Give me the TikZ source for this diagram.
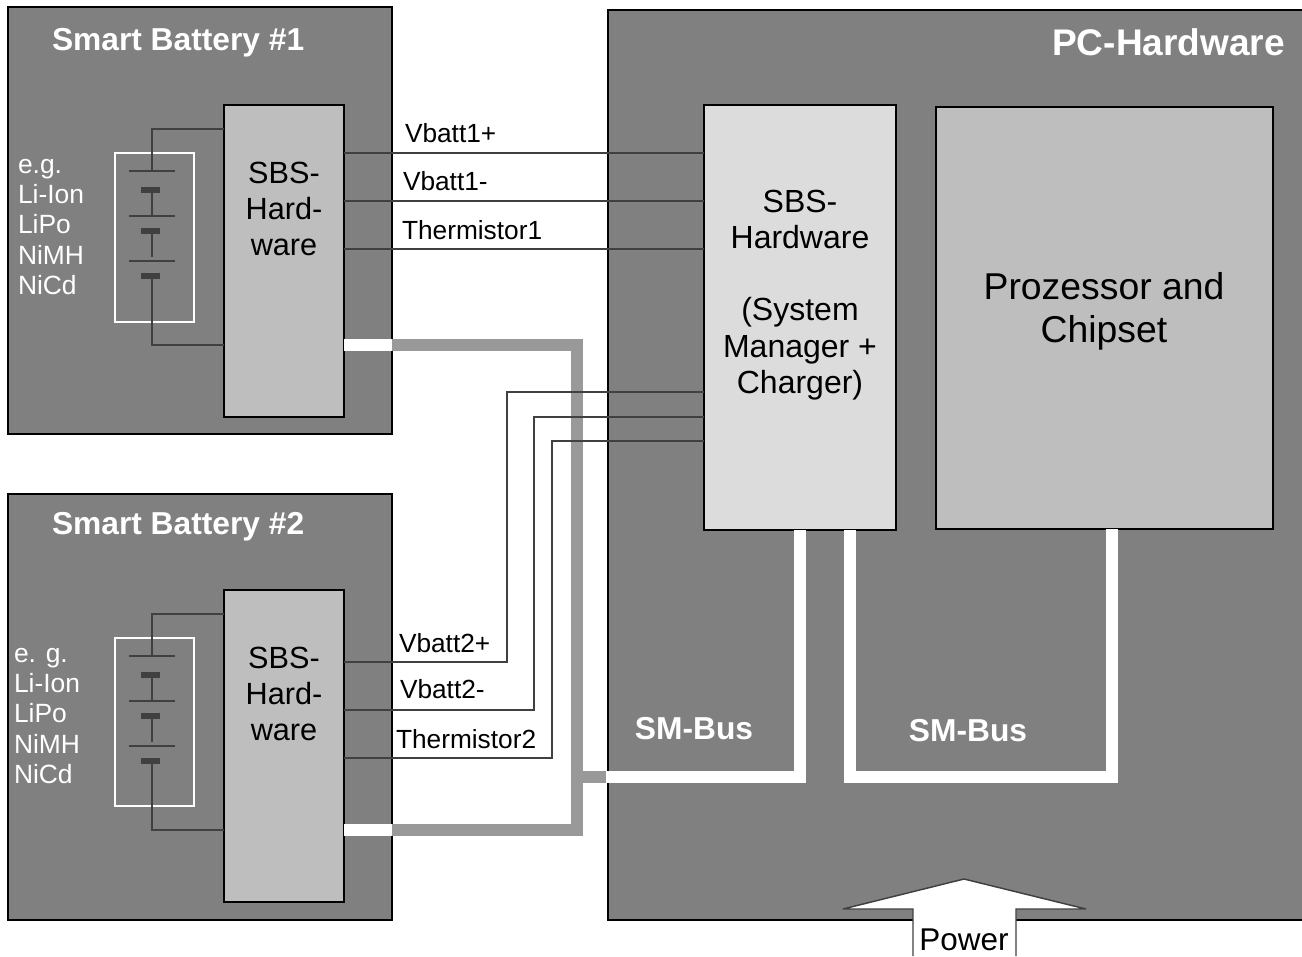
\documentclass[tikz,border=0pt]{standalone}
\usepackage{fontspec}
\setmainfont{Liberation Sans}
\newcommand{\boxnode}[6]{\node[#2,minimum width={(#5-#3)*0.75pt},minimum height={(#6-#4)*0.75pt}] (#1) at ({(#3+#5)/2},{(#4+#6)/2}) {};}
\definecolor{housing}{HTML}{808080}
\definecolor{wirecol}{HTML}{404040}
\definecolor{buscol}{HTML}{999999}
\definecolor{chipcol}{HTML}{BEBEBE}
\definecolor{mgrcol}{HTML}{DCDCDC}
\tikzset{
  housingbox/.style={draw=black,line width=1.5pt,fill=housing,inner sep=0pt,outer sep=0pt},
  chipbox/.style={draw=black,line width=1.5pt,fill=chipcol,inner sep=0pt,outer sep=0pt},
  mgrbox/.style={chipbox,fill=mgrcol},
  framebox/.style={draw=white,line width=1.5pt,inner sep=0pt,outer sep=0pt},
  wire/.style={draw=wirecol,line width=1.3pt},
  cellplate/.style={draw=wirecol,line width=1.1pt},
  cellneg/.style={draw=wirecol,line width=4.5pt},
  busw/.style={draw=white,line width=9pt},
  busg/.style={draw=buscol,line width=9pt},
  txt/.style={inner sep=0pt,outer sep=0pt,text=black},
  chemtxt/.style={txt,text=white,anchor=west,align=left,font=\fontsize{19.8pt}{22.8pt}\selectfont},
  sigtxt/.style={txt,anchor=west,font=\fontsize{19.7pt}{22pt}\selectfont},
  hwtxt/.style={txt,align=center,font=\fontsize{23pt}{27pt}\selectfont},
  mgrtxt/.style={txt,align=center,font=\fontsize{24pt}{27.2pt}\selectfont},
  bigtxt/.style={txt,align=center,font=\fontsize{28pt}{32.4pt}\selectfont},
  headtxt/.style={txt,text=white,font=\fontsize{23.8pt}{28pt}\selectfont\bfseries},
}
\begin{document}
\begin{tikzpicture}[x=0.75pt,y=-0.75pt]
\useasboundingbox (0,0) rectangle (1302,956);
% housings
\boxnode{bat1}{housingbox}{8}{7}{392}{434}
\boxnode{bat2}{housingbox}{8}{494}{392}{920}
\fill[housing] (608,10) rectangle (1302,920);
\draw[black,line width=1.5pt] (1302,10) -- (608,10) -- (608,920) -- (1302,920);
\coordinate (pcwest) at (608,777);
% main blocks
\boxnode{sbs1}{chipbox}{224}{105}{344}{417}
\boxnode{sbs2}{chipbox}{224}{590}{344}{902}
\boxnode{mgr}{mgrbox}{704}{105}{896}{530}
\boxnode{cpu}{chipbox}{936}{107}{1273}{529}
% battery frames
\boxnode{frame1}{framebox}{115}{153}{194}{322}
\boxnode{frame2}{framebox}{115}{638}{194}{806}
% battery 1 symbol
\foreach \yy in {171,216,261}{\draw[cellplate] (129,\yy) -- (175,\yy);}
\foreach \yy in {190,231,276}{\draw[cellneg] (141,\yy) -- (160,\yy);}
\draw[wire] (sbs1.west |- 0,129) -| (152,171);
\draw[wire] (152,190) -- (152,216);
\draw[wire] (152,231) -- (152,257);
\draw[wire] (152,276) |- (sbs1.west |- 0,345);
% battery 2 symbol
\foreach \yy in {656,701,746}{\draw[cellplate] (129,\yy) -- (175,\yy);}
\foreach \yy in {675,716,761}{\draw[cellneg] (141,\yy) -- (160,\yy);}
\draw[wire] (sbs2.west |- 0,614) -| (152,656);
\draw[wire] (152,675) -- (152,701);
\draw[wire] (152,716) -- (152,742);
\draw[wire] (152,761) |- (sbs2.west |- 0,830);
% SM-bus
\draw[busg,line join=miter] (392,345) -| (576.5,830) -- (392,830);
\draw[busg] (576.5,777) -- (pcwest);
\draw[busw] (sbs1.east |- 0,345) -- (392,345);
\draw[busw] (sbs2.east |- 0,830) -- (392,830);
\draw[busw,line join=miter] (606,777) -| (mgr.south -| 800,0);
\draw[busw,line join=miter] (mgr.south -| 850,0) |- (1112,777) -- (cpu.south -| 1112,0);
% signal wires
\draw[wire] (sbs1.east |- 0,153) -- (mgr.west |- 0,153);
\draw[wire] (sbs1.east |- 0,201) -- (mgr.west |- 0,201);
\draw[wire] (sbs1.east |- 0,249) -- (mgr.west |- 0,249);
\draw[wire] (sbs2.east |- 0,662) -| (507,392) -- (mgr.west |- 0,392);
\draw[wire] (sbs2.east |- 0,710) -| (534,417) -- (mgr.west |- 0,417);
\draw[wire] (sbs2.east |- 0,758) -| (552,441) -- (mgr.west |- 0,441);
% power arrow
\fill[white] (964,879) -- (1086,909) -- (1016,909) -- (1016,956) -- (913,956) -- (913,909) -- (843,909) -- cycle;
\draw[wirecol,line width=1.1pt,miter limit=1.5] (913,956) -- (913,909) -- (843,909) -- (964,879) -- (1086,909) -- (1016,909) -- (1016,956);
% texts
\node[headtxt,anchor=west] (t1) at (52,43) {Smart Battery \#1};
\node[headtxt,anchor=west] (t2) at (52,527) {Smart Battery \#2};
\node[headtxt,anchor=east,font=\fontsize{27.8pt}{32pt}\selectfont\bfseries] (t3) at (1285,42) {PC-Hardware};
\node[chemtxt] (c1) at (18,227) {e.g.\\Li-Ion\\LiPo\\NiMH\\NiCd};
\node[chemtxt] (c2) at (14,716) {e. g.\\Li-Ion\\LiPo\\NiMH\\NiCd};
\node[hwtxt] (h1) at (284,209) {SBS-\\Hard-\\ware};
\node[hwtxt] (h2) at (284,694) {SBS-\\Hard-\\ware};
\node[mgrtxt] (h3) at (800,295) {SBS-\\Hardware\\[27.2pt](System\\Manager +\\Charger)};
\node[bigtxt] (h4) at (1104,311) {Prozessor and\\Chipset};
\node[sigtxt] (s1) at (405,133) {Vbatt1+};
\node[sigtxt] (s2) at (403,181) {Vbatt1-};
\node[sigtxt] (s3) at (402,230) {Thermistor1};
\node[sigtxt] (s4) at (399,643) {Vbatt2+};
\node[sigtxt] (s5) at (400,689) {Vbatt2-};
\node[sigtxt] (s6) at (396,739) {Thermistor2};
\node[headtxt] (b1) at (694,729) {SM-Bus};
\node[headtxt] (b2) at (968,731) {SM-Bus};
\node[txt,font=\fontsize{23.6pt}{28pt}\selectfont] (pw) at (964,940) {Power};
\end{tikzpicture}
\end{document}
